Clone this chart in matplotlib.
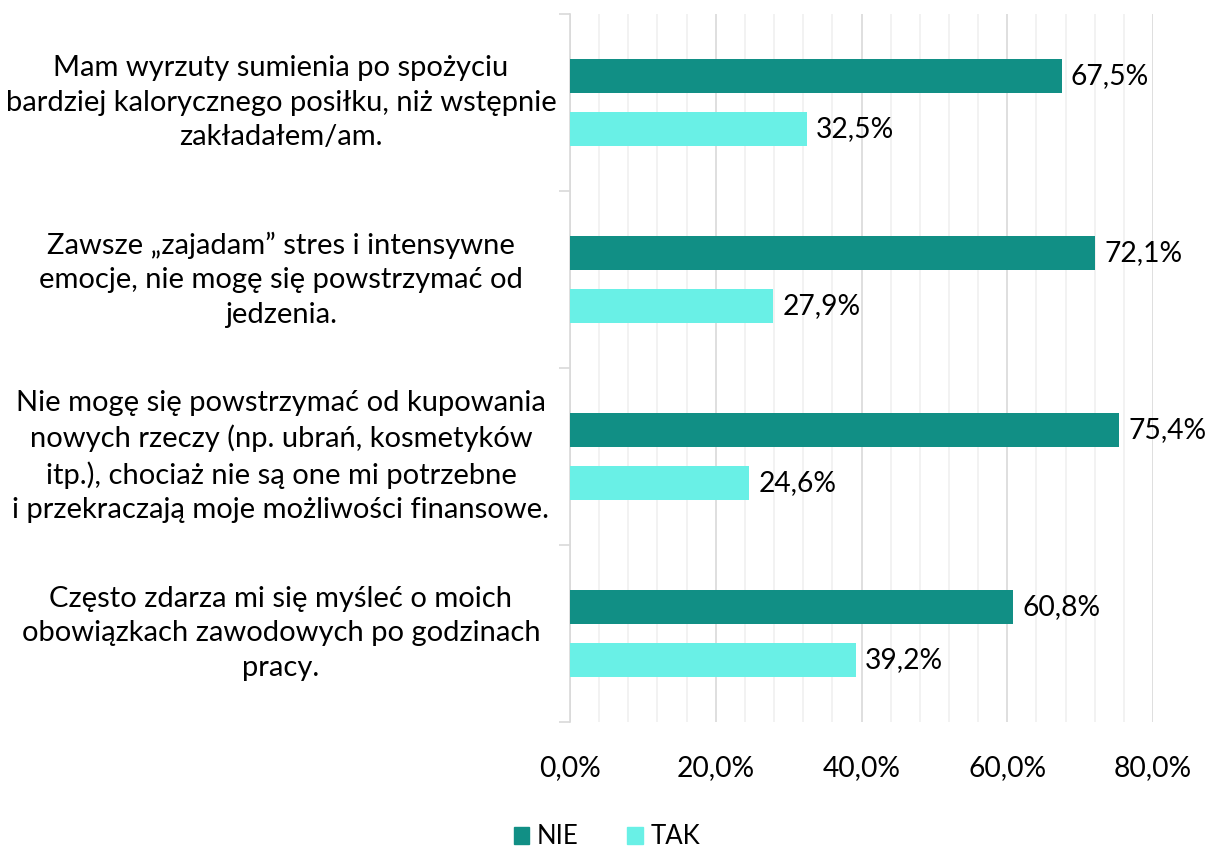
import matplotlib
matplotlib.use("Agg")
import matplotlib.pyplot as plt
from matplotlib.ticker import MultipleLocator, FuncFormatter
from matplotlib.patches import Patch

categories = [
    "Mam wyrzuty sumienia po spożyciu\nbardziej kalorycznego posiłku, niż wstępnie\nzakładałem/am.",
    "Zawsze „zajadam” stres i intensywne\nemocje, nie mogę się powstrzymać od\njedzenia.",
    "Nie mogę się powstrzymać od kupowania\nnowych rzeczy (np. ubrań, kosmetyków\nitp.), chociaż nie są one mi potrzebne\ni przekraczają moje możliwości finansowe.",
    "Często zdarza mi się myśleć o moich\nobowiązkach zawodowych po godzinach\npracy.",
]
nie = [67.5, 72.1, 75.4, 60.8]
tak = [32.5, 27.9, 24.6, 39.2]
series_names = ["NIE", "TAK"]
colors = ["#118F85", "#69F0E6"]

plt.rcParams['font.family'] = ['Lato', 'DejaVu Sans']
FS_CAT = 21.0
FS_NUM = 20.3
FS_LEG = 18.5

fig = plt.figure(figsize=(12.14, 8.5), dpi=100)
ax = fig.add_axes([570/1214, 1-722/850, (1153-570)/1214, (722-14)/850])

n = len(categories)
ys = list(range(n))
bh = 0.19
off = 0.15
b1 = ax.barh([y - off for y in ys], nie, height=bh, color=colors[0], zorder=3)
b2 = ax.barh([y + off for y in ys], tak, height=bh, color=colors[1], zorder=3)

def fmt(v):
    return f"{v:.1f}%".replace(".", ",")

for bars, vals in ((b1, nie), (b2, tak)):
    for rect, v in zip(bars, vals):
        ax.annotate(fmt(v), (rect.get_width(), rect.get_y() + rect.get_height()/2),
                    xytext=(9, 0), textcoords="offset pixels",
                    ha="left", va="center", fontsize=FS_NUM, color="#000000")

ax.set_xlim(0, 80)
ax.set_ylim(n - 0.5, -0.5)
ax.xaxis.set_major_locator(MultipleLocator(20))
ax.xaxis.set_minor_locator(MultipleLocator(4))
ax.xaxis.set_major_formatter(FuncFormatter(lambda v, p: fmt(v)))
ax.grid(axis="x", which="major", color="#D9D9D9", lw=1.2, zorder=0)
ax.grid(axis="x", which="minor", color="#F0F0F0", lw=1.2, zorder=0)
ax.tick_params(axis="x", which="both", length=0, labelsize=FS_NUM, pad=24)

ax.set_yticks([y - 0.5 for y in range(n + 1)])
ax.set_yticklabels([])
ax.tick_params(axis="y", length=8, color="#D9D9D9", width=1.2)
for s in ["top", "right", "bottom"]:
    ax.spines[s].set_visible(False)
ax.spines["left"].set_color("#D9D9D9")
ax.spines["left"].set_linewidth(1.2)

px_per_unit = 583 / 80
for y, lab in zip(ys, categories):
    ax.text(-289 / px_per_unit, y, lab, ha="center", va="center", multialignment="center",
            fontsize=FS_CAT, linespacing=1.4, transform=ax.transData, clip_on=False)

handles = [Patch(color=c) for c in colors]
fig.legend(handles, series_names, loc="center", bbox_to_anchor=(0.5, 1 - 837/850), ncol=2,
           frameon=False, fontsize=FS_LEG, handlelength=0.6, handleheight=0.6,
           handletextpad=0.3, columnspacing=1.9)

fig.savefig("out.png", dpi=100)
